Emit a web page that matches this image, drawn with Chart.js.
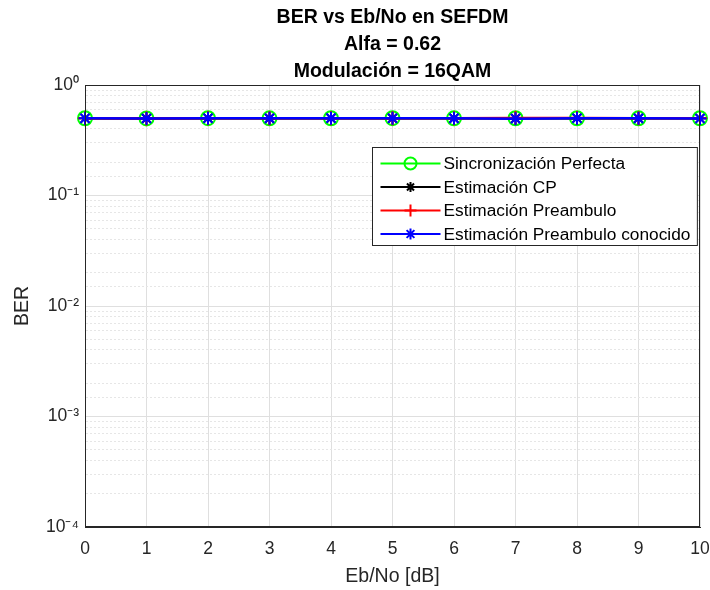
<!DOCTYPE html>
<html>
<head>
<meta charset="utf-8">
<script src="https://cdn.jsdelivr.net/npm/chart.js@4.4.1/dist/chart.umd.min.js"></script>
<style>
  body { margin: 0; background: #fff; }
  #wrap { width: 710px; height: 590px; }
</style>
</head>
<body>
<div id="wrap"><canvas id="berChart" width="710" height="590"></canvas></div>
<script>
// data
const ebno = [0, 1, 2, 3, 4, 5, 6, 7, 8, 9, 10];
const berPerfecta = [0.500, 0.498, 0.501, 0.499, 0.500, 0.501, 0.499, 0.500, 0.500, 0.499, 0.500];
const berCP = [0.499, 0.497, 0.500, 0.500, 0.499, 0.500, 0.500, 0.499, 0.501, 0.500, 0.499];
const berPreambulo = [0.500, 0.498, 0.499, 0.501, 0.500, 0.499, 0.500, 0.503, 0.503, 0.500, 0.501];
const berConocido = [0.499, 0.498, 0.500, 0.499, 0.501, 0.500, 0.499, 0.496, 0.500, 0.499, 0.497];
const seriesLabels = [
  'Sincronización Perfecta',
  'Estimación CP',
  'Estimación Preambulo',
  'Estimación Preambulo conocido'
];
const titleLines = ['BER vs Eb/No en SEFDM', 'Alfa = 0.62', 'Modulación = 16QAM'];
const xTicks = [0, 1, 2, 3, 4, 5, 6, 7, 8, 9, 10];
const yMin = 1e-4;
const yMax = 1;

const FONT = "'Liberation Sans', Arial, sans-serif";
const supMap = { '-': '⁻', '0': '⁰', '1': '¹', '2': '²', '3': '³', '4': '⁴', '5': '⁵', '6': '⁶', '7': '⁷', '8': '⁸', '9': '⁹' };

function isDecade(v) {
  const e = Math.log10(v);
  return Math.abs(e - Math.round(e)) < 1e-6;
}
function decadeLabel(v) {
  const e = String(Math.round(Math.log10(v)));
  return '10' + e.split('').map((c) => supMap[c]).join('');
}

// box around the axes + legend drawn like matlab
const matlabBox = {
  id: 'matlabBox',
  afterDraw(chart) {
    const ctx = chart.ctx;
    const a = chart.chartArea;
    ctx.save();
    ctx.strokeStyle = '#262626';
    ctx.lineWidth = 1;
    ctx.strokeRect(a.left + 0.5, a.top + 0.5, a.right - a.left - 1, a.bottom - a.top - 1);

    // legend
    ctx.font = '17.3px ' + FONT;
    const sets = chart.data.datasets.slice().sort((p, q) => p.legendIndex - q.legendIndex);
    let tw = 0;
    sets.forEach((d) => { tw = Math.max(tw, ctx.measureText(d.label).width); });
    const w = 71 + tw + 7;
    const h = 98;
    const x0 = Math.round(a.right - 3 - w) + 0.5;
    const y0 = Math.round(a.top + 62) + 0.5;
    ctx.fillStyle = '#fff';
    ctx.fillRect(x0, y0, w, h);
    ctx.strokeStyle = '#262626';
    ctx.strokeRect(x0, y0, w, h);
    sets.forEach((d, i) => {
      const cy = y0 + 16 + i * 23.5;
      ctx.strokeStyle = d.borderColor;
      ctx.lineWidth = 2;
      ctx.beginPath();
      ctx.moveTo(x0 + 8, cy);
      ctx.lineTo(x0 + 68, cy);
      ctx.stroke();
      ctx.fillStyle = d.pointBackgroundColor;
      Chart.helpers.drawPoint(ctx, {
        pointStyle: d.pointStyle, rotation: 0, radius: d.pointRadius - 1, borderWidth: 2
      }, x0 + 38, cy);
      ctx.fillStyle = '#000';
      ctx.textBaseline = 'middle';
      ctx.textAlign = 'left';
      ctx.fillText(d.label, x0 + 71, cy + 1);
    });
    ctx.restore();
  }
};

function makeSet(label, data, color, style, radius, legendIndex, order) {
  return {
    label: label,
    data: data,
    borderColor: color,
    backgroundColor: color,
    pointBackgroundColor: style === 'circle' ? 'rgba(0,0,0,0)' : color,
    pointBorderColor: color,
    pointStyle: style,
    pointRadius: radius,
    pointBorderWidth: 2,
    borderWidth: 2.5,
    tension: 0,
    clip: false,
    legendIndex: legendIndex,
    order: order
  };
}

const chart = new Chart(document.getElementById('berChart'), {
  type: 'line',
  data: {
    datasets: [
      makeSet(seriesLabels[0], ebno.map((x, i) => ({ x: x, y: berPerfecta[i] })), '#00ff00', 'circle', 7, 0, 3),
      makeSet(seriesLabels[1], ebno.map((x, i) => ({ x: x, y: berCP[i] })), '#000000', 'star', 6, 1, 2),
      makeSet(seriesLabels[2], ebno.map((x, i) => ({ x: x, y: berPreambulo[i] })), '#ff0000', 'cross', 7, 2, 1),
      makeSet(seriesLabels[3], ebno.map((x, i) => ({ x: x, y: berConocido[i] })), '#0000ff', 'star', 6.5, 3, 0)
    ]
  },
  options: {
    responsive: false,
    animation: false,
    layout: { padding: { left: 0, right: 0, top: 0, bottom: 0 } },
    plugins: {
      legend: { display: false },
      tooltip: { enabled: false },
      title: {
        display: true,
        fullSize: false,
        text: titleLines,
        color: '#000',
        font: { family: FONT, size: 19.5, weight: 'bold', lineHeight: '27px' },
        padding: { top: 4, bottom: 0 }
      }
    },
    scales: {
      x: {
        type: 'linear',
        min: 0,
        max: 10,
        afterBuildTicks: (s) => { s.ticks = xTicks.map((v) => ({ value: v })); },
        afterFit: (s) => { s.height = 63; s.paddingRight = 10; s.paddingLeft = 0; },
        ticks: { color: '#262626', font: { family: FONT, size: 17.5 }, padding: 12, maxRotation: 0 },
        grid: { color: '#dfdfdf', drawTicks: false },
        border: { color: '#262626', width: 1 },
        title: {
          display: true,
          text: 'Eb/No [dB]',
          color: '#262626',
          font: { family: FONT, size: 19.5 },
          padding: { top: 0, bottom: 2 }
        }
      },
      y: {
        type: 'logarithmic',
        min: yMin,
        max: yMax,
        afterFit: (s) => { s.width = 85; },
        ticks: {
          autoSkip: false,
          color: '#262626',
          font: { family: FONT, size: 17.5 },
          padding: 6,
          callback: (v) => (isDecade(v) ? decadeLabel(v) : '')
        },
        grid: {
          drawTicks: false,
          color: (c) => (c.tick && !isDecade(c.tick.value) ? '#e6e6e6' : '#dfdfdf')
        },
        border: {
          color: '#262626',
          width: 1,
          dash: (c) => (c.tick && !isDecade(c.tick.value) ? [2, 2] : [])
        },
        title: {
          display: true,
          text: 'BER',
          color: '#262626',
          font: { family: FONT, size: 19.5 },
          padding: { top: 11, bottom: 0 }
        }
      }
    }
  },
  plugins: [matlabBox]
});
</script>
</body>
</html>
